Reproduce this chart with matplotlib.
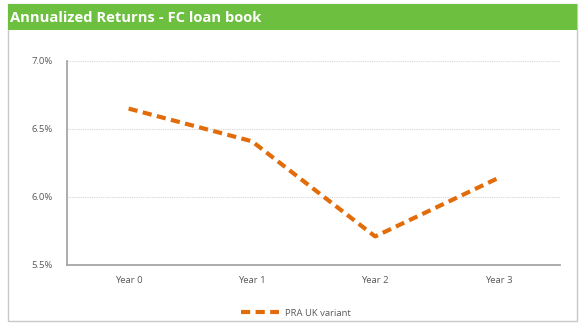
import numpy as np
import matplotlib.pyplot as plt
from matplotlib.patches import Rectangle
from matplotlib.ticker import FuncFormatter

# data
years = ["Year 0", "Year 1", "Year 2", "Year 3"]
returns = [6.65, 6.41, 5.71, 6.14]   # annualized return, %
series_name = "PRA UK variant"
yticks = [5.5, 6.0, 6.5, 7.0]

ORANGE = "#E36C0A"
GREEN = "#6CBF3F"
GREY_TXT = "#595959"

plt.rcParams["font.family"] = ["Open Sans", "DejaVu Sans"]

fig = plt.figure(figsize=(5.83, 3.27), dpi=100)
W, H = 583, 327

# outer frame + green title banner (kept behind the axes)
fig.patches.append(Rectangle((8 / W, 1 - 321 / H), 569 / W, 317 / H, transform=fig.transFigure,
                             facecolor="white", edgecolor="#C8C8C8", lw=1.0, zorder=-2))
fig.patches.append(Rectangle((8 / W, 1 - 30 / H), 569 / W, 26 / H, transform=fig.transFigure,
                             facecolor=GREEN, edgecolor="none", zorder=-1))
fig.text(10 / W, 1 - 18 / H, "Annualized Returns - FC loan book", color="white",
         fontsize=10.6, fontweight="bold", va="center", ha="left")

ax = fig.add_axes([67 / W, 1 - 265 / H, 493 / W, 204 / H])
ax.patch.set_alpha(0)
x = np.arange(len(years))
ax.plot(x, returns, color=ORANGE, lw=3, ls=(0, (2.2, 1.3)), label=series_name)

ax.set_xlim(-0.5, len(years) - 0.5)
ax.set_ylim(yticks[0], yticks[-1])
ax.set_yticks(yticks)
ax.yaxis.set_major_formatter(FuncFormatter(lambda v, p: f"{v:.1f}%"))
ax.set_xticks(x)
ax.set_xticklabels(years)
ax.tick_params(axis="both", length=0, labelsize=6.8, colors=GREY_TXT)
ax.tick_params(axis="x", pad=8)
ax.tick_params(axis="y", pad=10)

ax.grid(axis="y", color="#D6D6D6", ls=(0, (1, 1)), lw=0.8)
ax.set_axisbelow(True)
for s in ("top", "right"):
    ax.spines[s].set_visible(False)
for s in ("left", "bottom"):
    ax.spines[s].set_color("#A6A6A6")
    ax.spines[s].set_linewidth(1.3)

fig.legend(loc="center", bbox_to_anchor=(296 / W, 1 - 313 / H), frameon=False,
           fontsize=6.8, labelcolor=GREY_TXT, handlelength=4.0, handletextpad=0.6)

fig.savefig("out.png", dpi=100)
